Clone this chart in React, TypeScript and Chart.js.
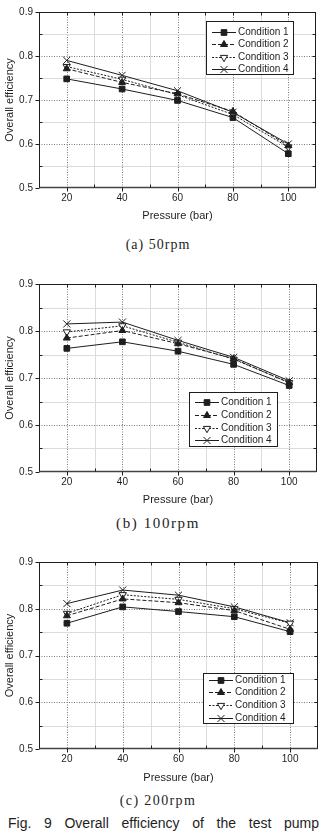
import React, { useEffect, useRef } from 'react';
import { Chart, registerables } from 'chart.js';
import { drawPoint } from 'chart.js/helpers';

Chart.register(...registerables);

// Pressure levels (bar) on the x axis
const pressures = [20, 40, 60, 80, 100];
const conditionLabels = ['Condition 1', 'Condition 2', 'Condition 3', 'Condition 4'];

// Overall efficiency at 50 rpm
const eff50Cond1 = [0.748, 0.725, 0.699, 0.66, 0.578];
const eff50Cond2 = [0.771, 0.74, 0.714, 0.674, 0.596];
const eff50Cond3 = [0.776, 0.747, 0.712, 0.667, 0.593];
const eff50Cond4 = [0.79, 0.756, 0.721, 0.672, 0.6];

// Overall efficiency at 100 rpm
const eff100Cond1 = [0.763, 0.777, 0.757, 0.729, 0.684];
const eff100Cond2 = [0.785, 0.801, 0.773, 0.741, 0.69];
const eff100Cond3 = [0.798, 0.811, 0.776, 0.74, 0.69];
const eff100Cond4 = [0.815, 0.819, 0.78, 0.744, 0.694];

// Overall efficiency at 200 rpm
const eff200Cond1 = [0.769, 0.804, 0.794, 0.783, 0.751];
const eff200Cond2 = [0.785, 0.821, 0.813, 0.796, 0.756];
const eff200Cond3 = [0.79, 0.83, 0.82, 0.8, 0.769];
const eff200Cond4 = [0.811, 0.84, 0.829, 0.804, 0.77];

const xMin = 10;
const xMax = 110;
const yMin = 0.5;
const yMax = 0.9;

const INK = '#1e1e1e';
const SANS = '"Liberation Sans", Arial, sans-serif';

type SeriesStyle = {
  pointStyle: string;
  rotation: number;
  fill: string;
  dash: number[];
  radius: number;
};

const seriesStyles: SeriesStyle[] = [
  { pointStyle: 'rect', rotation: 0, fill: INK, dash: [], radius: 4 },
  { pointStyle: 'triangle', rotation: 0, fill: INK, dash: [4, 2], radius: 4 },
  { pointStyle: 'triangle', rotation: 180, fill: '#ffffff', dash: [2, 1.5], radius: 4.2 },
  { pointStyle: 'crossRot', rotation: 0, fill: INK, dash: [], radius: 5 },
];

type LegendBox = { x: number; y: number; w: number; h: number; first: number; step: number };

// Grid, frame, tick marks and the boxed legend
const frameLegendPlugin = {
  id: 'frameLegend',
  beforeDatasetsDraw(chart: any) {
    const { ctx, chartArea, scales } = chart;
    const { left, right, top, bottom } = chartArea;
    const xs = scales.x;
    const ys = scales.y;
    ctx.save();
    ctx.lineWidth = 1;
    for (const t of xs.ticks) {
      if (t.value <= xMin || t.value >= xMax) continue;
      const px = Math.round(xs.getPixelForValue(t.value)) + 0.5;
      const major = t.label !== '';
      ctx.strokeStyle = major ? '#7a7a7a' : '#dcdcdc';
      ctx.setLineDash(major ? [1, 1.5] : []);
      ctx.beginPath();
      ctx.moveTo(px, top);
      ctx.lineTo(px, bottom);
      ctx.stroke();
    }
    for (const t of ys.ticks) {
      if (t.value <= yMin + 1e-6 || t.value >= yMax - 1e-6) continue;
      const py = Math.round(ys.getPixelForValue(t.value)) + 0.5;
      const major = t.label !== '';
      ctx.strokeStyle = major ? '#7a7a7a' : '#dcdcdc';
      ctx.setLineDash(major ? [1, 1.5] : []);
      ctx.beginPath();
      ctx.moveTo(left, py);
      ctx.lineTo(right, py);
      ctx.stroke();
    }
    ctx.restore();
  },
  afterDatasetsDraw(chart: any, _args: any, opts: any) {
    const { ctx, chartArea, scales } = chart;
    const { left, right, top, bottom } = chartArea;
    const xs = scales.x;
    const ys = scales.y;
    ctx.save();
    ctx.setLineDash([]);
    // frame
    ctx.strokeStyle = INK;
    ctx.lineWidth = 1;
    const L = Math.round(left) + 0.5;
    const R = Math.round(right) - 0.5;
    const T = Math.round(top) + 0.5;
    const B = Math.round(bottom) - 0.5;
    ctx.strokeRect(L, T, R - L, B - T);
    ctx.strokeStyle = '#444';
    ctx.lineWidth = 1.6;
    ctx.beginPath();
    ctx.moveTo(L, B);
    ctx.lineTo(R, B);
    ctx.stroke();
    // tick marks
    ctx.strokeStyle = INK;
    ctx.lineWidth = 1;
    ctx.beginPath();
    for (const t of xs.ticks) {
      if (t.value <= xMin || t.value >= xMax) continue;
      const px = Math.round(xs.getPixelForValue(t.value)) + 0.5;
      if (t.label !== '') {
        ctx.moveTo(px, B);
        ctx.lineTo(px, B + 4);
      } else {
        ctx.moveTo(px, B);
        ctx.lineTo(px, B - 3);
      }
      ctx.moveTo(px, T);
      ctx.lineTo(px, T + 3);
    }
    for (const t of ys.ticks) {
      if (t.value <= yMin + 1e-6 || t.value >= yMax - 1e-6) continue;
      const py = Math.round(ys.getPixelForValue(t.value)) + 0.5;
      if (t.label !== '') {
        ctx.moveTo(L, py);
        ctx.lineTo(L - 4, py);
      } else {
        ctx.moveTo(L, py);
        ctx.lineTo(L + 3, py);
      }
      ctx.moveTo(R, py);
      ctx.lineTo(R - 3, py);
    }
    // end ticks on the left axis
    for (const v of [yMin, yMax]) {
      const py = Math.round(ys.getPixelForValue(v)) + 0.5;
      ctx.moveTo(L, py);
      ctx.lineTo(L - 4, py);
    }
    ctx.stroke();

    // legend
    const box: LegendBox = opts.box;
    if (box) {
      ctx.fillStyle = '#ffffff';
      ctx.fillRect(box.x, box.y, box.w, box.h);
      ctx.strokeStyle = INK;
      ctx.lineWidth = 1;
      ctx.strokeRect(box.x + 0.5, box.y + 0.5, box.w, box.h);
      ctx.font = '10px ' + SANS;
      ctx.textBaseline = 'middle';
      ctx.textAlign = 'left';
      chart.data.datasets.forEach((ds: any, i: number) => {
        const st = seriesStyles[i];
        const cy = Math.round(box.y + box.first + i * box.step) + 0.5;
        ctx.strokeStyle = INK;
        ctx.lineWidth = 1;
        ctx.setLineDash(st.dash);
        ctx.beginPath();
        ctx.moveTo(box.x + 6, cy);
        ctx.lineTo(box.x + 30, cy);
        ctx.stroke();
        ctx.setLineDash([]);
        ctx.fillStyle = st.fill;
        drawPoint(
          ctx,
          { pointStyle: st.pointStyle as any, rotation: st.rotation, radius: st.radius, borderWidth: 1 },
          box.x + 18,
          cy
        );
        ctx.fillStyle = INK;
        ctx.fillText(ds.label, box.x + 32, cy);
      });
    }
    ctx.restore();
  },
};

type PanelProps = {
  top: number;
  height: number;
  padTop: number;
  padRight: number;
  xAxisHeight: number;
  series: number[][];
  legend: LegendBox;
};

function EfficiencyPanel({ top, height, padTop, padRight, xAxisHeight, series, legend }: PanelProps) {
  const ref = useRef<HTMLCanvasElement | null>(null);

  useEffect(() => {
    if (!ref.current) return;
    const datasets = series.map((vals, i) => {
      const st = seriesStyles[i];
      return {
        label: conditionLabels[i],
        data: pressures.map((p, j) => ({ x: p, y: vals[j] })),
        borderColor: INK,
        borderWidth: 1,
        borderDash: st.dash,
        tension: 0,
        fill: false,
        pointStyle: st.pointStyle,
        pointRotation: st.rotation,
        pointRadius: st.radius,
        pointBackgroundColor: st.fill,
        pointBorderColor: INK,
        pointBorderWidth: 1,
      };
    });

    const chart = new Chart(ref.current, {
      type: 'line',
      data: { datasets } as any,
      options: {
        responsive: false,
        animation: false,
        events: [],
        layout: { padding: { top: padTop, right: padRight, left: 0, bottom: 0 } },
        plugins: {
          legend: { display: false },
          tooltip: { enabled: false },
          frameLegend: { box: legend },
        } as any,
        scales: {
          x: {
            type: 'linear',
            min: xMin,
            max: xMax,
            grid: { display: false, drawTicks: false },
            border: { display: false },
            ticks: {
              stepSize: 10,
              autoSkip: false,
              maxRotation: 0,
              padding: 4,
              color: INK,
              font: { family: SANS, size: 10 },
              callback: (v: any) => (v % 20 === 0 && v >= 20 && v <= 100 ? String(v) : ''),
            },
            title: {
              display: true,
              text: 'Pressure (bar)',
              color: INK,
              font: { family: SANS, size: 11 },
              padding: { top: 0, bottom: 5 },
            },
            afterFit: (s: any) => {
              s.height = xAxisHeight;
            },
          },
          y: {
            type: 'linear',
            min: yMin,
            max: yMax,
            grid: { display: false, drawTicks: false },
            border: { display: false },
            ticks: {
              stepSize: 0.05,
              autoSkip: false,
              padding: 6,
              color: INK,
              font: { family: SANS, size: 10 },
              callback: (v: any) => (Math.round(v * 100) % 10 === 0 ? Number(v).toFixed(1) : ''),
            },
            title: {
              display: true,
              text: 'Overall efficiency',
              color: INK,
              font: { family: SANS, size: 11 },
              padding: { top: 3, bottom: 0 },
            },
            afterFit: (s: any) => {
              s.width = 39;
            },
          },
        },
      } as any,
      plugins: [frameLegendPlugin],
    });
    return () => chart.destroy();
  }, [series, legend, padTop, padRight, xAxisHeight]);

  return (
    <canvas
      ref={ref}
      width={324}
      height={height}
      style={{ position: 'absolute', left: 0, top, width: 324, height }}
    />
  );
}

const series50 = [eff50Cond1, eff50Cond2, eff50Cond3, eff50Cond4];
const series100 = [eff100Cond1, eff100Cond2, eff100Cond3, eff100Cond4];
const series200 = [eff200Cond1, eff200Cond2, eff200Cond3, eff200Cond4];

const legend50: LegendBox = { x: 206, y: 21, w: 87, h: 53, first: 10.5, step: 12.6 };
const legend100: LegendBox = { x: 189, y: 122, w: 88, h: 54, first: 10.2, step: 12.7 };
const legend200: LegendBox = { x: 203, y: 123, w: 90, h: 50, first: 6.5, step: 12.7 };

const captionStyle = (top: number, size: number, spacing: number): React.CSSProperties => ({
  position: 'absolute',
  left: 0,
  width: 316,
  top,
  textAlign: 'center',
  fontFamily: '"Liberation Serif", "DejaVu Serif", serif',
  fontSize: size,
  lineHeight: `${size + 2}px`,
  letterSpacing: spacing,
  color: INK,
  whiteSpace: 'pre',
});

export default function App() {
  return (
    <div
      style={{
        position: 'absolute',
        left: 0,
        top: 0,
        width: 324,
        height: 833,
        background: '#ffffff',
        overflow: 'hidden',
      }}
    >
      <EfficiencyPanel top={0} height={228} padTop={7} padRight={8} xAxisHeight={40} series={series50} legend={legend50} />
      <div style={captionStyle(237, 14, 1)}>(a) 50rpm</div>
      <EfficiencyPanel top={270} height={242} padTop={14} padRight={7} xAxisHeight={40} series={series100} legend={legend100} />
      <div style={captionStyle(515, 15, 1.6)}>(b) 100rpm</div>
      <EfficiencyPanel top={550} height={240} padTop={12} padRight={2} xAxisHeight={41} series={series200} legend={legend200} />
      <div style={captionStyle(793, 14, 1.4)}>(c) 200rpm</div>
      <div
        style={{
          position: 'absolute',
          left: 8,
          top: 815,
          width: 311,
          fontFamily: SANS,
          fontSize: 14,
          lineHeight: '16px',
          color: INK,
          textAlign: 'justify',
          textAlignLast: 'justify',
          whiteSpace: 'nowrap',
        }}
      >
        Fig. 9 Overall efficiency of the test pump
      </div>
    </div>
  );
}
